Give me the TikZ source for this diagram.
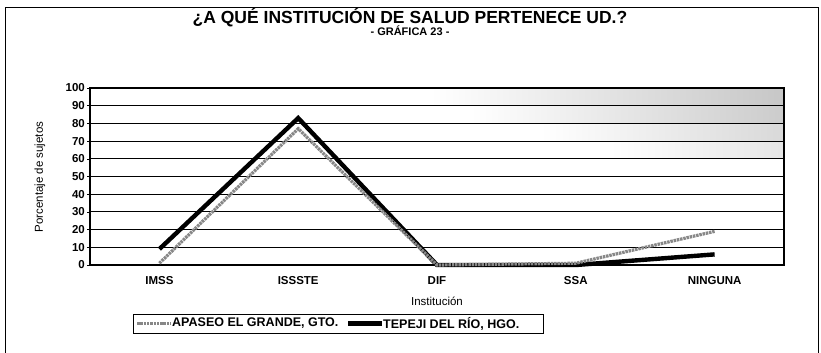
\documentclass[tikz,border=0pt]{standalone}
\usepackage{fontspec}
\setmainfont{Liberation Sans}
\usetikzlibrary{positioning}
\definecolor{ApaseoColor}{RGB}{135,135,135}
\definecolor{TepejiColor}{RGB}{0,0,0}
\tikzstyle{gridline} = [black, line width=1.1pt]
\tikzstyle{apaseo} = [ApaseoColor, line width=3.2pt, dash pattern=on 2.5pt off 0.8pt]
\tikzstyle{tepeji} = [TepejiColor, line width=4.4pt, line join=miter]
\tikzstyle{catlabel} = [font=\fontsize{11.5}{13}\selectfont\bfseries]
\tikzstyle{ticklabel} = [font=\fontsize{11.5}{13}\selectfont\bfseries, anchor=east, inner sep=1pt]
\tikzstyle{legendtext} = [font=\fontsize{12.5}{14}\selectfont\bfseries, anchor=west, inner sep=1pt]

\begin{document}
\begin{tikzpicture}[x=1pt, y=1pt]
  \useasboundingbox (0,0) rectangle (821,-353);
  % outer frame
  \draw[line width=0.8pt] (5,-7) rectangle (818,-360);

  % titles
  \node[font=\fontsize{17.5}{19}\selectfont\bfseries] (title) at (410,-17) {¿A QUÉ INSTITUCIÓN DE SALUD PERTENECE UD.?};
  \node[font=\fontsize{11}{13}\selectfont\bfseries] (subtitle) at (410,-31) {- GRÁFICA 23 -};

  % plot area, origin at the 0 line
  \begin{scope}[shift={(90,-265)}, y=1.77pt]
    % faint shaded bands, upper right
    \foreach \lo/\start/\tone in {90/340/22, 80/380/20, 70/450/15, 60/520/10}
      \shade[left color=white, right color=black!\tone] (\start,\lo) rectangle (694,\lo+10);
    \foreach \v in {10,20,...,90}
      \draw[gridline] (0,\v) -- (694,\v);
    \draw[line width=1.3pt] (0,0) rectangle (694,100);
    \draw[line width=2pt] (694,0) -- (694,100);
    \foreach \v in {0,10,...,100} {
      \draw[line width=0.6pt] (-3,\v) -- (0,\v);
      \node[ticklabel] at (-4,\v) {\v};
    }
    \foreach \name [count=\i] in {IMSS,ISSSTE,DIF,SSA,NINGUNA}
      \node[catlabel] (cat\i) at ({(\i-0.5)*138.8},-8.5) {\name};

    % data
    \foreach \v [count=\i] in {9,83,0,0,6}
      \coordinate (t\i) at ({(\i-0.5)*138.8},\v);
    \foreach \v [count=\i] in {1,77,0,1,19}
      \coordinate (a\i) at ({(\i-0.5)*138.8},\v);
    \draw[tepeji] (t1) -- (t2) -- (t3) -- (t4) -- (t5);
    \draw[apaseo] (a1) -- (a2) -- (a3) -- (a4) -- (a5);
  \end{scope}

  % axis titles
  \node[font=\fontsize{11.5}{13}\selectfont] (xlabel) at (437,-301) {Institución};
  \node[font=\fontsize{11.5}{13}\selectfont, rotate=90] (ylabel) at (40,-177) {Porcentaje de sujetos};

  % legend
  \node[draw, line width=0.8pt, minimum width=410pt, minimum height=19pt, inner sep=0pt] (legend) at (338,-323.5) {};
  \coordinate (apaseoStart) at (137,-323.5);
  \node[legendtext] (apaseoText) at (171,-323.5) {APASEO EL GRANDE, GTO.};
  \draw[apaseo] (apaseoStart) -- (apaseoText.west);
  \coordinate (tepejiStart) at (348,-323.5);
  \node[legendtext] (tepejiText) at (382,-323.5) {TEPEJI DEL RÍO, HGO.};
  \draw[tepeji] (tepejiStart) -- (tepejiText.west);
\end{tikzpicture}
\end{document}
